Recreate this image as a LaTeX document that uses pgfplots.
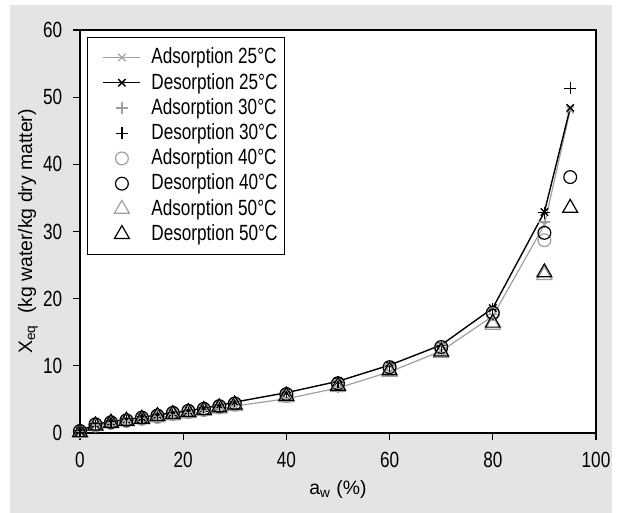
\documentclass[border=0pt]{standalone}
\usepackage{fontspec}
\setmainfont{Liberation Sans}[FakeStretch=0.78]
\newfontfamily\labfont{Liberation Sans}
\usepackage{pgfplots}
\pgfplotsset{compat=1.18}
\usetikzlibrary{backgrounds,calc}
\definecolor{bggray}{RGB}{227,228,227}
\definecolor{ltgray}{RGB}{160,160,160}
\newcommand{\lbl}{\fontsize{11}{13}\selectfont}
\newcommand{\axl}{\labfont\fontsize{9.7}{11.5}\selectfont}
\pgfplotsset{
  lineleg/.style={legend image code/.code={%
    \path[draw=none,fill=none] (0pt,0pt) rectangle (28.5pt,0pt);
    \draw[mark repeat=2,mark phase=2,##1] plot coordinates {(4.5pt,0pt) (13.75pt,0pt) (23pt,0pt)};}},
  markleg/.style={legend image code/.code={%
    \path[draw=none,fill=none] (0pt,0pt) rectangle (28.5pt,0pt);
    \draw[##1] plot coordinates {(13.75pt,0pt)};}},
}

\begin{document}
\lbl
\begin{tikzpicture}
\begin{axis}[
  name=ax,
  scale only axis,
  width=258pt, height=201.5pt,
  xmin=0, xmax=100, ymin=0, ymax=60,
  xtick={0,20,...,100}, ytick={0,10,...,60},
  xtick pos=left, ytick pos=left,
  tick align=outside, major tick length=3.5pt,
  tick style={black, line width=0.6pt},
  axis line style={line width=0.8pt},
  axis background/.style={fill=white},
  clip=false,
  /pgf/number format/assume math mode=true,
  tick label style={font=\lbl},
  xticklabel style={yshift=-2pt},
  yticklabel style={xshift=-1.5pt},
  label style={font=\axl},
  xlabel={a\textsubscript{w} (\%)},
  xlabel style={at={(axis description cs:0.5,0)}, anchor=center, yshift=-28pt},
  ylabel={X\textsubscript{eq}\ \ (kg water/kg dry matter)},
  ylabel style={at={(axis description cs:0,0.5)}, anchor=center, yshift=26pt},
  legend style={at={(axis description cs:0.0136,0.983)}, anchor=north west,
    draw=black, fill=white, font=\lbl,
    row sep=0pt, inner xsep=3.5pt, inner ysep=3.8pt,
    nodes={inner xsep=0pt, inner ysep=1.5pt}},
  legend cell align=left,
]
% Adsorption 25
\addplot[ltgray, line width=0.6pt, mark=x, mark size=2.6pt, lineleg] coordinates {
 (0,0.1) (3,1.1) (6,1.4) (9,1.7) (12,2.0) (15,2.3) (18,2.6) (21,2.9) (24,3.2) (27,3.6) (30,4.0)
 (40,5.1) (50,6.7) (60,9.1) (70,12.2) (80,17.4) (90,31.0) (95,48.1)};
% Desorption 25
\addplot[black, line width=0.7pt, mark=x, mark size=2.6pt, lineleg] coordinates {
 (0,0.3) (3,1.3) (6,1.7) (9,2.0) (12,2.3) (15,2.7) (18,3.0) (21,3.3) (24,3.7) (27,4.1) (30,4.6)
 (40,6.0) (50,7.7) (60,10.1) (70,13.1) (80,18.6) (90,32.9) (95,48.4)};
% Adsorption 30
\addplot[ltgray, only marks, line width=0.6pt, mark=+, mark size=3pt, markleg] coordinates {
 (0,0.2) (3,1.2) (6,1.5) (9,1.8) (12,2.1) (15,2.4) (18,2.7) (21,3.0) (24,3.4) (27,3.7) (30,4.1)
 (40,5.3) (50,6.9) (60,9.3) (70,12.4) (80,17.6) (90,31.4)};
% Desorption 30
\addplot[black, only marks, line width=0.6pt, mark=+, mark size=3pt, markleg] coordinates {
 (0,0.4) (3,1.4) (6,1.8) (9,2.1) (12,2.4) (15,2.8) (18,3.1) (21,3.4) (24,3.8) (27,4.2) (30,4.7)
 (40,6.1) (50,7.6) (60,10.0) (70,13.0) (80,18.4) (90,32.8) (95,51.3)};
% Adsorption 40
\addplot[ltgray, only marks, line width=0.6pt, mark=o, mark size=3.2pt, markleg] coordinates {
 (0,0.2) (3,1.1) (6,1.5) (9,1.8) (12,2.1) (15,2.4) (18,2.8) (21,3.1) (24,3.4) (27,3.8) (30,4.2)
 (40,5.5) (50,7.1) (60,9.4) (70,12.5) (80,17.7) (90,28.7)};
% Desorption 40
\addplot[black, only marks, line width=0.6pt, mark=o, mark size=3.2pt, markleg] coordinates {
 (0,0.3) (3,1.3) (6,1.6) (9,1.9) (12,2.3) (15,2.6) (18,3.0) (21,3.3) (24,3.6) (27,4.0) (30,4.4)
 (40,5.8) (50,7.4) (60,9.8) (70,12.8) (80,17.9) (90,29.8) (95,38.1)};
% Adsorption 50
\addplot[ltgray, only marks, line width=0.6pt, mark=triangle, mark size=4.3pt, markleg] coordinates {
 (0,0.0) (3,1.0) (6,1.4) (9,1.7) (12,2.0) (15,2.3) (18,2.6) (21,2.9) (24,3.3) (27,3.6) (30,4.0)
 (40,5.3) (50,6.8) (60,9.1) (70,11.9) (80,16.1) (90,23.5)};
% Desorption 50
\addplot[black, only marks, line width=0.6pt, mark=triangle, mark size=4.3pt, markleg] coordinates {
 (0,0.1) (3,1.1) (6,1.5) (9,1.8) (12,2.1) (15,2.5) (18,2.8) (21,3.1) (24,3.4) (27,3.8) (30,4.2)
 (40,5.5) (50,7.0) (60,9.3) (70,12.1) (80,16.4) (90,23.9) (95,33.5)};
\legend{Adsorption 25°C, Desorption 25°C, Adsorption 30°C, Desorption 30°C,
  Adsorption 40°C, Desorption 40°C, Adsorption 50°C, Desorption 50°C}
\end{axis}
\begin{scope}[on background layer]
\fill[bggray] ($(ax.south west)+(-35pt,-40pt)$) rectangle ($(ax.south west)+(266pt,214pt)$);
\end{scope}
\pgfresetboundingbox
\path[use as bounding box] ($(ax.south west)+(-40pt,-40pt)$) rectangle ($(ax.south west)+(268.5pt,216.5pt)$);
\end{tikzpicture}
\end{document}
